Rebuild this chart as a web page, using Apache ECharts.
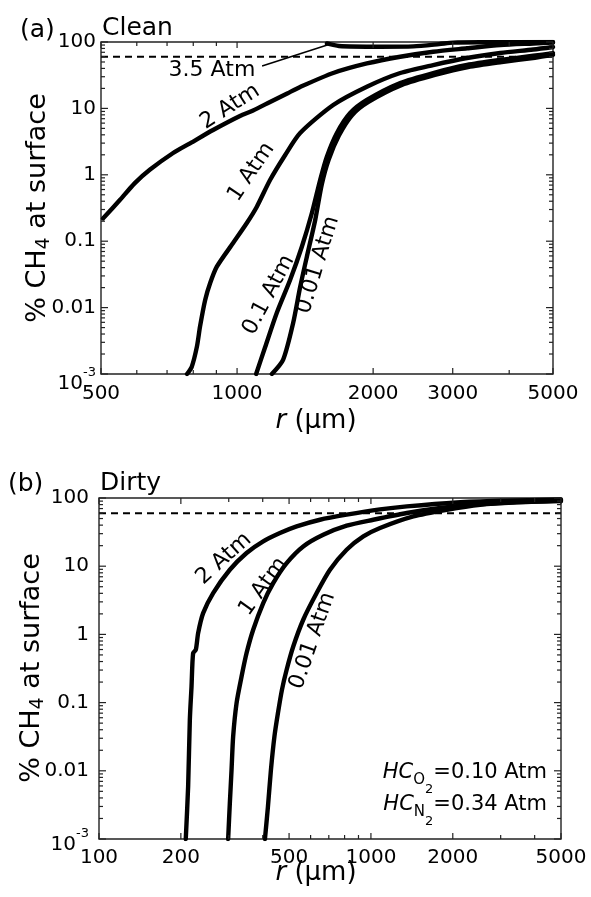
<!DOCTYPE html>
<html>
<head>
<meta charset="utf-8">
<title>% CH4 at surface vs bubble radius</title>
<script src="https://cdn.jsdelivr.net/npm/echarts@6.0.0/dist/echarts.min.js"></script>
<style>
  html, body { margin: 0; padding: 0; background: #fff; }
  #chart { width: 591px; height: 897px; }
</style>
</head>
<body>
<div id="chart"></div>
<script>
// ---------------------------------------------------------------------------
// Data: bubble radius r (µm) vs. % CH4 still in the bubble at the surface
// ---------------------------------------------------------------------------

// (a) Clean bubbles
const clean35Atm_r = [1580, 1680, 2073, 2455, 2800, 3008, 3600, 5000];
const clean35Atm_v = [95, 87, 85, 86, 93, 98, 99, 100];

const clean2Atm_r = [505, 551, 594, 642, 722, 787, 885, 1015, 1085, 1183, 1291, 1379, 1632, 1937, 2296, 2716, 3226, 3822, 4522, 5000];
const clean2Atm_v = [0.22, 0.42, 0.75, 1.2, 2.13, 2.98, 4.73, 7.69, 9.3, 12.5, 16.8, 21.0, 34.1, 47.5, 60, 71.4, 80.4, 90, 95, 98];

const clean1Atm_r = [775, 794, 815, 828, 850, 872, 902, 980, 1051, 1106, 1183, 1278, 1379, 1632, 1937, 2296, 2716, 3226, 3822, 4522, 5000];
const clean1Atm_v = [0.001, 0.00129, 0.00258, 0.00515, 0.013, 0.0234, 0.0413, 0.094, 0.188, 0.331, 0.835, 1.99, 4.26, 11.25, 21.2, 34.1, 45, 57.4, 68.3, 77, 84];

const clean01Atm_r = [1102, 1154, 1224, 1310, 1391, 1464, 1527, 1580, 1663, 1779, 1937, 2296, 2716, 3226, 3822, 4522, 5000];
const clean01Atm_v = [0.001, 0.00255, 0.0083, 0.026, 0.0826, 0.266, 0.835, 1.87, 4.26, 8.5, 13.4, 24.1, 34.1, 45, 53.6, 62, 68];

const clean001Atm_r = [1194, 1264, 1331, 1379, 1427, 1489, 1540, 1595, 1680, 1796, 1953, 2315, 2740, 3245, 3850, 4560, 5000];
const clean001Atm_v = [0.001, 0.00163, 0.0059, 0.0204, 0.0585, 0.209, 0.72, 1.7, 3.9, 7.9, 12.5, 22.5, 31.9, 42, 50, 58, 64];

// (b) Dirty bubbles
const dirty2Atm_r = [208.5, 212.7, 215.8, 218.9, 221.9, 227, 231.5, 241.5, 262.9, 302.8, 348.9, 401.7, 462.8, 533.1, 649.6, 814, 1080, 1355, 2070, 3000, 5000];
const dirty2Atm_v = [0.001, 0.00586, 0.0558, 0.172, 0.532, 0.594, 1.045, 2.05, 4.04, 8.87, 15.6, 23.1, 30.6, 38.3, 48, 56.9, 68, 75.3, 86, 91, 95];

const dirty1Atm_r = [298.5, 302.8, 307.2, 311.4, 320.5, 334.4, 348.9, 369, 401.7, 437.2, 489.8, 563.7, 667.8, 814, 1020, 1355, 1797, 2382, 3500, 5000];
const dirty1Atm_v = [0.001, 0.00335, 0.0103, 0.0318, 0.098, 0.241, 0.532, 1.17, 2.88, 5.66, 11.1, 19.5, 28.9, 39.3, 48, 60.3, 71.3, 79.7, 87, 92];

const dirty001Atm_r = [407.6, 418.1, 428.8, 441.7, 455, 470.7, 489.8, 518, 563.7, 631.6, 707, 814, 937.6, 1080, 1432, 1901, 2522, 3344, 5000];
const dirty001Atm_v = [0.001, 0.00298, 0.0103, 0.0318, 0.07, 0.154, 0.303, 0.664, 1.64, 4.04, 8.87, 17.4, 27.3, 36.3, 53.7, 67.3, 79.7, 86, 90];

// Horizontal reference level (%)
const thresholdLevel = 60;

// Axis ranges and ticks
const yRange = [0.001, 100];
const cleanXRange = [500, 5000];
const dirtyXRange = [100, 5000];

const yTickValues = [0.001, 0.01, 0.1, 1, 10, 100];
const yTickLabels = ['{b|10}{s|-3}', '0.01', '0.1', '1', '10', '100'];
const yMinorSteps = [2, 3, 4, 5, 6, 7, 8, 9];

const cleanXTickValues = [500, 1000, 2000, 3000, 5000];
const cleanXTickLabels = ['500', '1000', '2000', '3000', '5000'];
const cleanXMinorTicks = [600, 700, 800, 900, 4000];

const dirtyXTickValues = [100, 200, 500, 1000, 2000, 5000];
const dirtyXTickLabels = ['100', '200', '500', '1000', '2000', '5000'];
const dirtyXMinorTicks = [300, 400, 600, 700, 800, 900, 3000, 4000];

// ---------------------------------------------------------------------------
// Layout / styling
// ---------------------------------------------------------------------------
const FONT = 'DejaVu Sans';
const INK = '#000';
const AXIS_INK = '#222';
const CURVE_WIDTH = 4.4;

// Curve labels anchored in data space: [r, value], angle in degrees
const cleanCurveLabels = [
  { text: '3.5 Atm', at: [880, 37.9], angle: 0 },
  { text: '2 Atm', at: [965, 10.6], angle: 32.5 },
  { text: '1 Atm', at: [1075, 1.10], angle: 56 },
  { text: '0.1 Atm', at: [1175, 0.0155], angle: 62 },
  { text: '0.01 Atm', at: [1510, 0.0438], angle: 73 }
];
const dirtyCurveLabels = [
  { text: '2 Atm', at: [288, 12.9], angle: 42 },
  { text: '1 Atm', at: [402, 5.0], angle: 54 },
  { text: '0.01 Atm', at: [610, 0.805], angle: 71 }
];
// Pointer from the "3.5 Atm" label to the start of its curve
const arrowFrom = [1136, 43.6];
const arrowTo = [1590, 91];

const panels = [
  {
    gi: 0, xRange: cleanXRange,
    xMajor: cleanXTickValues, xLabels: cleanXTickLabels, xMinor: cleanXMinorTicks,
    yLabelGap: 5, xLabelGap: 10, powShift: 6, curveLabels: cleanCurveLabels
  },
  {
    gi: 1, xRange: dirtyXRange,
    xMajor: dirtyXTickValues, xLabels: dirtyXTickLabels, xMinor: dirtyXMinorTicks,
    yLabelGap: 10, xLabelGap: 9, powShift: 2, curveLabels: dirtyCurveLabels
  }
];

function zip(xs, ys) { return xs.map((x, i) => [x, ys[i]]); }

function textEl(x, y, text, o) {
  const style = {
    text: text,
    fill: INK,
    fontFamily: FONT,
    fontSize: o.size,
    fontStyle: o.italic ? 'italic' : 'normal',
    align: o.align || 'center',
    verticalAlign: o.va || 'middle',
    textAlign: o.align || 'center',
    textVerticalAlign: o.va || 'middle'
  };
  if (o.rich) style.rich = o.rich;
  return { type: 'text', x: x, y: y, rotation: (o.angle || 0) * Math.PI / 180, silent: true, style: style };
}

const powRich = {
  b: { fontFamily: FONT, fontSize: 20, padding: [8, 0, 0, 0], verticalAlign: 'bottom', fill: INK },
  s: { fontFamily: FONT, fontSize: 13, verticalAlign: 'top', fill: INK }
};

function curveSeries(gi, xs, ys, extra) {
  return Object.assign({
    type: 'line', xAxisIndex: gi, yAxisIndex: gi,
    data: zip(xs, ys),
    showSymbol: false, symbol: 'none',
    smooth: 0.25,
    lineStyle: { color: INK, width: CURVE_WIDTH, cap: 'round', join: 'round' },
    silent: true, animation: false, z: 3
  }, extra || {});
}

function thresholdSeries(p) {
  return {
    type: 'line', xAxisIndex: p.gi, yAxisIndex: p.gi,
    data: [[p.xRange[0], thresholdLevel], [p.xRange[1], thresholdLevel]],
    showSymbol: false, symbol: 'none',
    lineStyle: { color: INK, width: 2, type: [7, 5] },
    silent: true, animation: false, z: 2
  };
}

// Inward ticks on all four sides of a panel
function tickSeries(p) {
  const items = [];
  p.xMajor.forEach(v => items.push({ x: v, y: yRange[0], axis: 'x', major: true }));
  p.xMinor.forEach(v => items.push({ x: v, y: yRange[0], axis: 'x', major: false }));
  yTickValues.forEach(d => {
    items.push({ x: p.xRange[0], y: d, axis: 'y', major: true });
    if (d < yRange[1]) yMinorSteps.forEach(m => items.push({ x: p.xRange[0], y: m * d, axis: 'y', major: false }));
  });
  return {
    type: 'custom', coordinateSystem: 'cartesian2d', xAxisIndex: p.gi, yAxisIndex: p.gi,
    silent: true, animation: false, z: 5,
    data: items.map(it => [it.x, it.y]),
    encode: { x: 0, y: 1 },
    renderItem: function (params, api) {
      const it = items[params.dataIndex];
      const st = { stroke: AXIS_INK, lineWidth: 1.2 };
      if (it.axis === 'x') {
        const b = api.coord([it.x, yRange[0]]);
        const t = api.coord([it.x, yRange[1]]);
        const L = it.major ? 6 : 4;
        return { type: 'group', children: [
          { type: 'line', shape: { x1: b[0], y1: b[1], x2: b[0], y2: b[1] - L }, style: st },
          { type: 'line', shape: { x1: t[0], y1: t[1], x2: t[0], y2: t[1] + L }, style: st }
        ] };
      }
      const l = api.coord([p.xRange[0], it.y]);
      const r = api.coord([p.xRange[1], it.y]);
      const L = it.major ? 7 : 4;
      return { type: 'group', children: [
        { type: 'line', shape: { x1: l[0], y1: l[1], x2: l[0] + L, y2: l[1] }, style: st },
        { type: 'line', shape: { x1: r[0], y1: r[1], x2: r[0] - L, y2: r[1] }, style: st }
      ] };
    }
  };
}

// Tick labels for both axes of a panel
function tickLabelSeries(p) {
  const items = [];
  p.xMajor.forEach((v, i) => items.push({ x: v, y: yRange[0], axis: 'x', text: p.xLabels[i] }));
  yTickValues.forEach((v, i) => items.push({ x: p.xRange[0], y: v, axis: 'y', text: yTickLabels[i] }));
  return {
    type: 'custom', coordinateSystem: 'cartesian2d', xAxisIndex: p.gi, yAxisIndex: p.gi,
    silent: true, animation: false, z: 6,
    data: items.map(it => [it.x, it.y]),
    encode: { x: 0, y: 1 },
    renderItem: function (params, api) {
      const it = items[params.dataIndex];
      const pt = api.coord([it.x, it.y]);
      if (it.axis === 'x') {
        return textEl(pt[0], pt[1] + p.xLabelGap, it.text, { size: 20, align: 'center', va: 'top' });
      }
      const isPow = it.text.indexOf('{') >= 0;
      return textEl(pt[0] - p.yLabelGap, pt[1] + (isPow ? p.powShift : 0), it.text,
        { size: 20, align: 'right', va: 'middle', rich: isPow ? powRich : null });
    }
  };
}

// Rotated pressure labels next to the curves
function curveLabelSeries(p) {
  const items = p.curveLabels;
  return {
    type: 'custom', coordinateSystem: 'cartesian2d', xAxisIndex: p.gi, yAxisIndex: p.gi,
    silent: true, animation: false, z: 6,
    data: items.map(it => it.at),
    encode: { x: 0, y: 1 },
    renderItem: function (params, api) {
      const it = items[params.dataIndex];
      const pt = api.coord(it.at);
      return textEl(pt[0], pt[1], it.text, { size: 22, angle: it.angle });
    }
  };
}

function axisPair(p) {
  const hidden = { axisLine: { show: false }, axisTick: { show: false }, axisLabel: { show: false }, splitLine: { show: false } };
  return {
    x: Object.assign({ gridIndex: p.gi, type: 'log', logBase: 10, min: p.xRange[0], max: p.xRange[1] }, hidden),
    y: Object.assign({ gridIndex: p.gi, type: 'log', logBase: 10, min: yRange[0], max: yRange[1] }, hidden)
  };
}

const axesA = axisPair(panels[0]);
const axesB = axisPair(panels[1]);

const yTitleRich = {
  n: { fontFamily: FONT, fontSize: 27, padding: [0, 0, 2, 0], verticalAlign: 'top', fill: INK },
  sub: { fontFamily: FONT, fontSize: 19, verticalAlign: 'bottom', fill: INK }
};
const xTitleRich = {
  i: { fontFamily: FONT, fontSize: 26, fontStyle: 'italic', fill: INK },
  n: { fontFamily: FONT, fontSize: 26, fill: INK }
};
const hcRich = {
  i: { fontFamily: FONT, fontSize: 21, fontStyle: 'italic', verticalAlign: 'top', fill: INK },
  n: { fontFamily: FONT, fontSize: 21, verticalAlign: 'top', fill: INK },
  o: { fontFamily: FONT, fontSize: 15, verticalAlign: 'top', padding: [11, 0, 0, 0], fill: INK },
  t: { fontFamily: FONT, fontSize: 13, verticalAlign: 'top', padding: [21, 0, 0, 0], fill: INK }
};

function gText(x, y, text, o) {
  const el = textEl(x, y, text, o);
  el.z = 10;
  return el;
}

const option = {
  backgroundColor: '#fff',
  animation: false,
  grid: [
    { left: 101, top: 42, width: 452, height: 332, show: true, borderColor: AXIS_INK, borderWidth: 1.4, backgroundColor: 'transparent' },
    { left: 99, top: 498, width: 462, height: 341, show: true, borderColor: AXIS_INK, borderWidth: 1.4, backgroundColor: 'transparent' }
  ],
  xAxis: [axesA.x, axesB.x],
  yAxis: [axesA.y, axesB.y],
  series: [
    thresholdSeries(panels[0]),
    curveSeries(0, clean35Atm_r, clean35Atm_v, {
      markLine: {
        silent: true, animation: false,
        symbol: ['none', 'arrow'], symbolSize: [0, 10],
        label: { show: false },
        lineStyle: { color: INK, width: 1.5, type: 'solid' },
        data: [[{ coord: arrowFrom }, { coord: arrowTo }]]
      }
    }),
    curveSeries(0, clean2Atm_r, clean2Atm_v),
    curveSeries(0, clean1Atm_r, clean1Atm_v),
    curveSeries(0, clean01Atm_r, clean01Atm_v),
    curveSeries(0, clean001Atm_r, clean001Atm_v),
    tickSeries(panels[0]),
    tickLabelSeries(panels[0]),
    curveLabelSeries(panels[0]),

    thresholdSeries(panels[1]),
    curveSeries(1, dirty2Atm_r, dirty2Atm_v),
    curveSeries(1, dirty1Atm_r, dirty1Atm_v),
    curveSeries(1, dirty001Atm_r, dirty001Atm_v),
    tickSeries(panels[1]),
    tickLabelSeries(panels[1]),
    curveLabelSeries(panels[1])
  ],
  graphic: [
    gText(20, 30, '(a)', { size: 25, align: 'left' }),
    gText(102, 28, 'Clean', { size: 25, align: 'left' }),
    gText(8, 484, '(b)', { size: 25, align: 'left' }),
    gText(100, 483, 'Dirty', { size: 25, align: 'left' }),
    gText(39, 208, '{n|% CH}{sub|4}{n| at surface}', { size: 27, angle: 90, rich: yTitleRich }),
    gText(33, 668, '{n|% CH}{sub|4}{n| at surface}', { size: 27, angle: 90, rich: yTitleRich }),
    gText(316, 421, '{i|r}{n| (\u03bcm)}', { size: 26, rich: xTitleRich }),
    gText(316, 873, '{i|r}{n| (\u03bcm)}', { size: 26, rich: xTitleRich }),
    gText(547, 762, '{i|HC}{o|O}{t|2}{n|=0.10 Atm}', { size: 21, align: 'right', va: 'top', rich: hcRich }),
    gText(547, 794, '{i|HC}{o|N}{t|2}{n|=0.34 Atm}', { size: 21, align: 'right', va: 'top', rich: hcRich })
  ]
};

const chart = echarts.init(document.getElementById('chart'), null, { renderer: 'canvas', width: 591, height: 897 });
chart.setOption(option);
</script>
</body>
</html>
